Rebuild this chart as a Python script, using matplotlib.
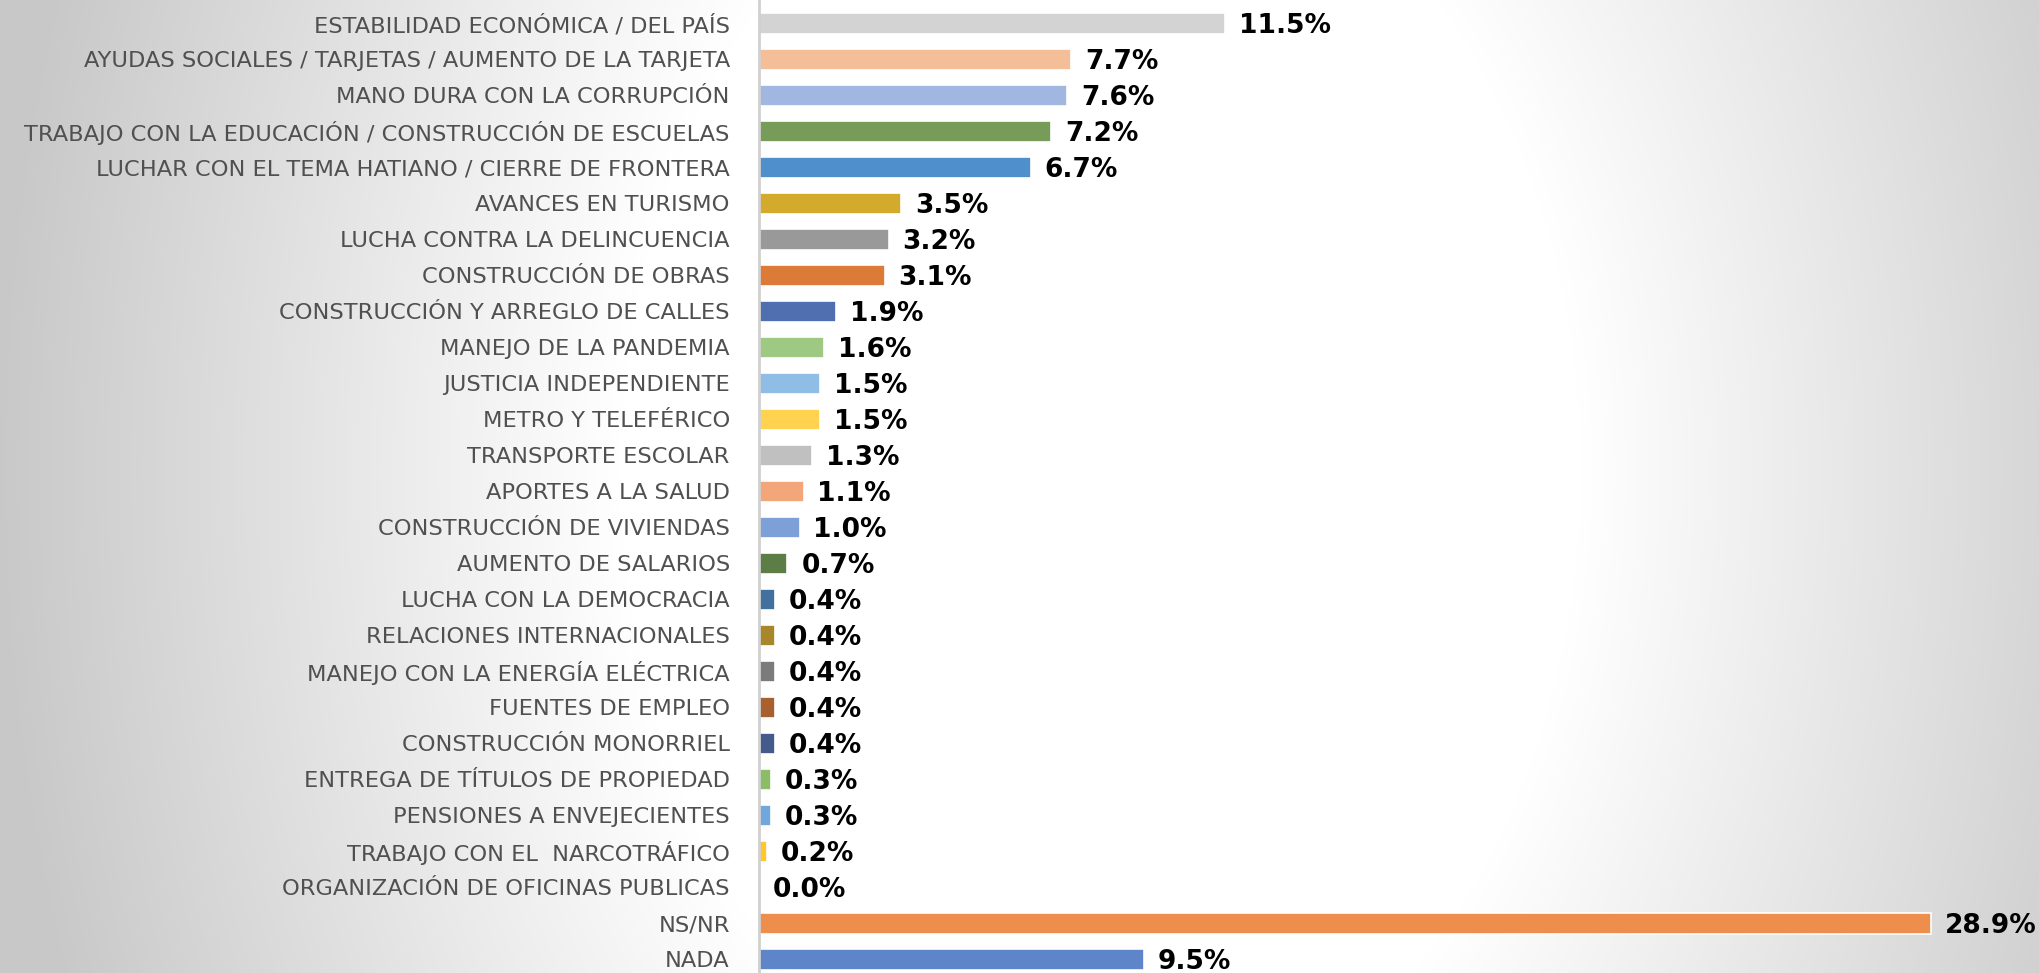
import numpy as np
import matplotlib
matplotlib.use("Agg")
import matplotlib.pyplot as plt

categories = [
    "ESTABILIDAD ECONÓMICA / DEL PAÍS",
    "AYUDAS SOCIALES / TARJETAS / AUMENTO DE LA TARJETA",
    "MANO DURA CON LA CORRUPCIÓN",
    "TRABAJO CON LA EDUCACIÓN / CONSTRUCCIÓN DE ESCUELAS",
    "LUCHAR CON EL TEMA HATIANO / CIERRE DE FRONTERA",
    "AVANCES EN TURISMO",
    "LUCHA CONTRA LA DELINCUENCIA",
    "CONSTRUCCIÓN DE OBRAS",
    "CONSTRUCCIÓN Y ARREGLO DE CALLES",
    "MANEJO DE LA PANDEMIA",
    "JUSTICIA INDEPENDIENTE",
    "METRO Y TELEFÉRICO",
    "TRANSPORTE ESCOLAR",
    "APORTES A LA SALUD",
    "CONSTRUCCIÓN DE VIVIENDAS",
    "AUMENTO DE SALARIOS",
    "LUCHA CON LA DEMOCRACIA",
    "RELACIONES INTERNACIONALES",
    "MANEJO CON LA ENERGÍA ELÉCTRICA",
    "FUENTES DE EMPLEO",
    "CONSTRUCCIÓN MONORRIEL",
    "ENTREGA DE TÍTULOS DE PROPIEDAD",
    "PENSIONES A ENVEJECIENTES",
    "TRABAJO CON EL  NARCOTRÁFICO",
    "ORGANIZACIÓN DE OFICINAS PUBLICAS",
    "NS/NR",
    "NADA",
]

values = [11.5, 7.7, 7.6, 7.2, 6.7, 3.5, 3.2, 3.1, 1.9, 1.6, 1.5, 1.5, 1.3,
          1.1, 1.0, 0.7, 0.4, 0.4, 0.4, 0.4, 0.4, 0.3, 0.3, 0.2, 0.0, 28.9, 9.5]

colors = ["#d3d3d3", "#f4be98", "#a1b7e1", "#779b58", "#4f8fcb", "#d4aa2c",
          "#999999", "#dc7a38", "#4f6fb0", "#9dc982", "#8fbde6", "#ffd34f",
          "#c0c0c0", "#f3a679", "#7da0d9", "#5c7d45", "#43719f", "#a8862a",
          "#7b7b7b", "#a9602f", "#44598c", "#8bbd66", "#70a8dd", "#ffc72c",
          "#cccccc", "#ed8e4d", "#5e84c9"]

W, H = 2040, 973
fig = plt.figure(figsize=(W / 100, H / 100), dpi=100)

# background gradient (elliptical, white centre, grey edges)
bg = fig.add_axes([0, 0, 1, 1])
xx, yy = np.meshgrid(np.arange(W), np.arange(H))
r = np.sqrt(((xx - 1100.0) / 480.0) ** 2 + ((yy - 470.0) / 660.0) ** 2)
t = np.clip((r - 1.0) / 1.3, 0, 1)
g = 1.0 - t * 0.215
bg.imshow(np.dstack([g, g, g]), extent=[0, W, H, 0], aspect="auto")
bg.set_axis_off()

ax = fig.add_axes([759 / W, 0, 1 - 759 / W, 1])
ax.patch.set_alpha(0)
n = len(categories)
y = np.arange(n)
ax.barh(y, values, height=0.6, color=colors, edgecolor="white", linewidth=1.2)
ax.set_xlim(0, 31.6)
ax.set_ylim(26.38, -0.65)
ax.set_yticks(y)
ax.set_yticklabels(categories, fontsize=16.2, color="#505050",
                   family=["DejaVu Sans"])
ax.tick_params(axis="y", length=0, pad=21)
ax.set_xticks([])
for s in ["top", "right", "bottom"]:
    ax.spines[s].set_visible(False)
ax.spines["left"].set_color("#d0d0d0")
ax.spines["left"].set_linewidth(2)

for yi, v in zip(y, values):
    ax.annotate(f"{v:.1f}%", xy=(v, yi), xytext=(10, -2), textcoords="offset points",
                va="center", ha="left", fontsize=19, fontweight="bold",
                color="black", family=["DejaVu Sans"])

fig.savefig("out.png", dpi=100)
